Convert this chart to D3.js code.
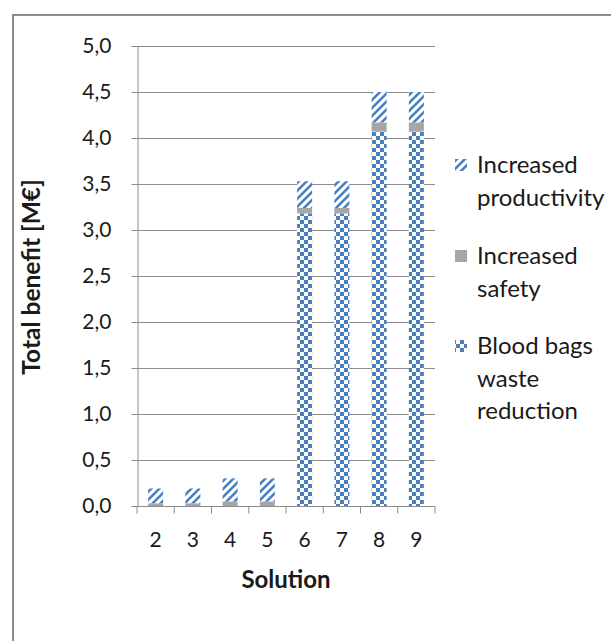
<!DOCTYPE html>
<html>
<head>
<meta charset="utf-8">
<script src="https://d3js.org/d3.v7.min.js"></script>
<style>
  body { margin: 0; background: #fff; }
  svg text { font-family: Lato, "Open Sans", sans-serif; fill: #1a1a1a; }
</style>
</head>
<body>
<div id="chart"></div>
<script>
const solutions = ["2", "3", "4", "5", "6", "7", "8", "9"]
const wasteReduction = [0, 0, 0, 0, 3.18, 3.18, 4.07, 4.07]
const increasedSafety = [0.03, 0.03, 0.05, 0.05, 0.06, 0.06, 0.10, 0.10]
const increasedProductivity = [0.16, 0.16, 0.25, 0.25, 0.29, 0.29, 0.33, 0.33]
const seriesNames = ["Blood bags waste reduction", "Increased safety", "Increased productivity"]
const yTicks = [0, 0.5, 1, 1.5, 2, 2.5, 3, 3.5, 4, 4.5, 5]

const w = 611, h = 641
const plotLeft = 137, plotRight = 435, plotTop = 46, plotBottom = 506
const blue = "#4a7ebe"

const svg = d3.select("#chart").append("svg")
    .attr("width", w)
    .attr("height", h)

// patterns
const defs = svg.append("defs")
const checker = defs.append("pattern")
    .attr("id", "checker")
    .attr("patternUnits", "userSpaceOnUse")
    .attr("width", 8).attr("height", 8)
checker.append("rect").attr("width", 8).attr("height", 8).attr("fill", "#fff")
checker.append("rect").attr("x", 0).attr("y", 0).attr("width", 4).attr("height", 4).attr("fill", blue)
checker.append("rect").attr("x", 4).attr("y", 4).attr("width", 4).attr("height", 4).attr("fill", blue)

const hatch = defs.append("pattern")
    .attr("id", "hatch")
    .attr("patternUnits", "userSpaceOnUse")
    .attr("width", 8).attr("height", 8)
hatch.append("rect").attr("width", 8).attr("height", 8).attr("fill", "#fff")
hatch.append("path")
    .attr("d", "M-2,2 L2,-2 M0,8 L8,0 M6,10 L10,6")
    .attr("stroke", blue)
    .attr("stroke-width", 2.6)

const fills = ["url(#checker)", "#a6a6a6", "url(#hatch)"]

// frame
svg.append("rect")
    .attr("x", 13).attr("y", 15)
    .attr("width", 640).attr("height", 660)
    .attr("fill", "none")
    .attr("stroke", "#8c8c8c")
    .attr("stroke-width", 2)

// scales
const x = d3.scaleBand().domain(solutions).range([plotLeft, plotRight]).paddingInner(0).paddingOuter(0)
const y = d3.scaleLinear().domain([0, 5]).range([plotBottom, plotTop])

// gridlines
svg.append("g")
    .selectAll("line")
    .data(yTicks.slice(1))
    .join("line")
    .attr("x1", plotLeft).attr("x2", plotRight)
    .attr("y1", d => y(d) + 0.5).attr("y2", d => y(d) + 0.5)
    .attr("stroke", "#8c8c8c")

// stacked bars
const table = solutions.map((s, i) => ({
    solution: s,
    waste: wasteReduction[i],
    safety: increasedSafety[i],
    productivity: increasedProductivity[i]
}))
const stack = d3.stack().keys(["waste", "safety", "productivity"])(table)
const barW = 15

svg.append("g")
    .selectAll("g")
    .data(stack)
    .join("g")
    .attr("fill", (d, i) => fills[i])
    .selectAll("rect")
    .data(d => d)
    .join("rect")
    .attr("x", d => x(d.data.solution) + x.bandwidth() / 2 - barW / 2)
    .attr("y", d => y(d[1]))
    .attr("width", barW)
    .attr("height", d => y(d[0]) - y(d[1]))

// y axis
const yAxis = d3.axisLeft(y)
    .tickValues(yTicks)
    .tickSize(6)
    .tickPadding(20)
    .tickFormat(d => d3.format(".1f")(d).replace(".", ","))
const gy = svg.append("g")
    .attr("transform", `translate(${plotLeft + 0.5},0)`)
    .call(yAxis)
gy.select(".domain").attr("stroke", "#8c8c8c")
gy.selectAll(".tick line").attr("stroke", "#8c8c8c")
gy.selectAll("text").attr("font-size", 21).attr("font-family", "Lato, sans-serif").attr("fill", "#1a1a1a")

// x axis
const gx = svg.append("g")
    .attr("transform", `translate(0,${plotBottom + 0.5})`)
    .call(d3.axisBottom(x).tickSize(0).tickPadding(26))
gx.select(".domain").attr("stroke", "#8c8c8c").attr("d", `M${plotLeft},0H${plotRight}`)
gx.selectAll("text").attr("font-size", 21).attr("font-family", "Lato, sans-serif").attr("fill", "#1a1a1a")
gx.append("g")
    .selectAll("line")
    .data(solutions.concat(["end"]))
    .join("line")
    .attr("x1", (d, i) => plotLeft + i * x.step())
    .attr("x2", (d, i) => plotLeft + i * x.step())
    .attr("y1", 0).attr("y2", 7)
    .attr("stroke", "#8c8c8c")

// axis titles
svg.append("text")
    .attr("transform", "translate(40,277) rotate(-90)")
    .attr("text-anchor", "middle")
    .attr("font-size", 24.5)
    .attr("font-weight", "bold")
    .text("Total benefit [M€]")

svg.append("text")
    .attr("x", (plotLeft + plotRight) / 2)
    .attr("y", 588)
    .attr("text-anchor", "middle")
    .attr("font-size", 24)
    .attr("font-weight", "bold")
    .text("Solution")

// legend
const legendItems = [
    { lines: ["Increased", "productivity"], fill: fills[2], y: 165 },
    { lines: ["Increased", "safety"], fill: fills[1], y: 256 },
    { lines: ["Blood bags", "waste", "reduction"], fill: fills[0], y: 346 }
]
const lg = svg.append("g")
legendItems.forEach(item => {
    lg.append("rect")
        .attr("x", 455).attr("y", item.y - 6)
        .attr("width", 12).attr("height", 12)
        .attr("fill", item.fill)
    item.lines.forEach((t, j) => {
        lg.append("text")
            .attr("x", 477)
            .attr("y", item.y + j * 32.5)
            .attr("dy", "0.35em")
            .attr("font-size", 24)
            .text(t)
    })
})
</script>
</body>
</html>
